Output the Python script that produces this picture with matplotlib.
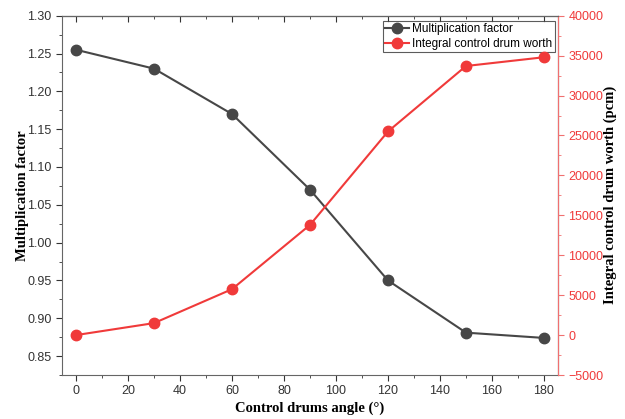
import matplotlib.pyplot as plt
from matplotlib.ticker import MultipleLocator

# dane
kat = [0, 30, 60, 90, 120, 150, 180]
k_eff = [1.255, 1.230, 1.170, 1.070, 0.950, 0.881, 0.874]
worth = [0, 1500, 5750, 13800, 25500, 33700, 34800]

czarny = '#474747'
czerwony = '#f03a3a'
czerwony_os = '#f07070'

plt.rcParams['font.family'] = ['Liberation Sans', 'DejaVu Sans']

fig = plt.figure(figsize=(6.25, 4.19), dpi=100)
ax = fig.add_axes([0.0992, 0.105, 0.7936, 0.8575])
ax2 = ax.twinx()

l1, = ax.plot(kat, k_eff, '-o', color=czarny, ms=7.5, lw=1.5, label='Multiplication factor')
l2, = ax2.plot(kat, worth, '-o', color=czerwony, ms=7.5, lw=1.5, label='Integral control drum worth')

ax.set_xlim(-5.4, 185.4)
ax.set_ylim(0.825, 1.30)
ax2.set_ylim(-5000, 40000)

ax.xaxis.set_major_locator(MultipleLocator(20))
ax.xaxis.set_minor_locator(MultipleLocator(10))
ax.yaxis.set_major_locator(MultipleLocator(0.05))
ax.yaxis.set_minor_locator(MultipleLocator(0.025))
ax2.yaxis.set_major_locator(MultipleLocator(5000))
ax2.yaxis.set_minor_locator(MultipleLocator(2500))
ax.yaxis.set_major_formatter(plt.FormatStrFormatter('%.2f'))

ax.tick_params(axis='both', which='major', labelsize=9, colors='#333333', length=4)
ax.tick_params(axis='both', which='minor', length=2.5, colors='#333333')
ax2.tick_params(axis='y', which='major', labelsize=9, colors=czerwony_os, labelcolor=czerwony, length=4)
ax2.tick_params(axis='y', which='minor', colors=czerwony_os, length=2.5)

# gorna os - kreski do srodka
gora = ax.secondary_xaxis('top')
gora.xaxis.set_major_locator(MultipleLocator(20))
gora.xaxis.set_minor_locator(MultipleLocator(10))
gora.tick_params(which='major', direction='in', length=4, labeltop=False, colors='#333333')
gora.tick_params(which='minor', direction='in', length=2.5, colors='#333333')
gora.spines['top'].set_color('#666666')

for s in ['left', 'bottom', 'top']:
    ax.spines[s].set_color('#666666')
ax2.spines['right'].set_color(czerwony_os)
ax2.spines['left'].set_visible(False)
ax2.spines['top'].set_color('#666666')
ax2.spines['bottom'].set_visible(False)

ax.set_xlabel('Control drums angle (°)', family='Liberation Serif', fontweight='bold', fontsize=10.5, va='center')
ax.set_ylabel('Multiplication factor', family='Liberation Serif', fontweight='bold', fontsize=10.5, va='center')
ax2.set_ylabel('Integral control drum worth (pcm)', family='Liberation Serif', fontweight='bold', fontsize=10.5, va='center')
ax.xaxis.set_label_coords(0.5, -0.092)
ax.yaxis.set_label_coords(-0.079, 0.5)
ax2.yaxis.set_label_coords(1.105, 0.5)

leg = ax.legend(handles=[l1, l2], loc='upper right', bbox_to_anchor=(0.993, 0.985), fontsize=8.5,
                frameon=True, fancybox=False, edgecolor='#333333', borderpad=0.2,
                handlelength=2.0, handletextpad=0.3, labelspacing=0.2, borderaxespad=0)
leg.get_frame().set_linewidth(0.8)

fig.savefig('out.png', dpi=100)
